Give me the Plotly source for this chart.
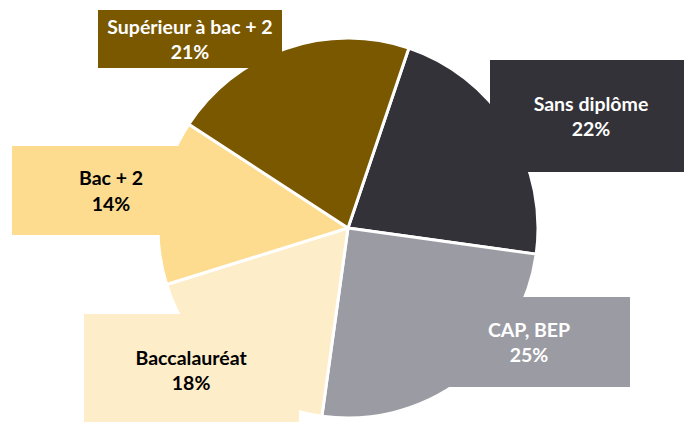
import plotly.graph_objects as go

labels = ["Sans diplôme", "CAP, BEP", "Baccalauréat", "Bac + 2", "Supérieur à bac + 2"]
values = [22, 25, 18, 14, 21]
colors = ["#333238", "#9B9BA3", "#FEEDC9", "#FDDC8F", "#7A5800"]
text_colors = ["white", "white", "black", "black", "white"]

W, H = 692, 422
OFF = 8  # page body margin in the browser
# label box geometry (screen pixels): center x, center y, width, height
boxes = [
    (591, 116, 202, 112),
    (529, 342, 202, 90),
    (192, 370, 215, 112),
    (111, 190, 198, 89),
    (190, 39, 184, 58),
]

# pie: center (348, 228), radius 190 in screen pixels
pcx, pcy, pr = 348 - OFF, 228 - OFF, 190

fig = go.Figure(go.Pie(
    labels=labels,
    values=values,
    sort=False,
    direction="clockwise",
    rotation=18.7,
    marker=dict(colors=colors, line=dict(color="white", width=3)),
    textinfo="none",
    hoverinfo="label+percent",
    domain=dict(x=[(pcx - pr) / W, (pcx + pr) / W],
                y=[1 - (pcy + pr) / H, 1 - (pcy - pr) / H]),
    showlegend=False,
))

annotations = []
for lab, val, col, tc, (cx, cy, bw, bh) in zip(labels, values, colors, text_colors, boxes):
    annotations.append(dict(
        x=(cx - OFF) / W, y=1 - (cy - OFF) / H, xref="paper", yref="paper",
        xanchor="center", yanchor="middle",
        text=f"<b>{lab}<br>{val}%</b>",
        showarrow=False,
        bgcolor=col, width=bw, height=bh, borderpad=0, borderwidth=0,
        align="center", valign="middle",
        font=dict(family="Lato, Carlito, sans-serif", size=19.5, color=tc),
    ))

fig.update_layout(
    width=W, height=H,
    margin=dict(l=0, r=0, t=0, b=0),
    paper_bgcolor="white", plot_bgcolor="white",
    annotations=annotations,
)

fig.write_html("out.html")
